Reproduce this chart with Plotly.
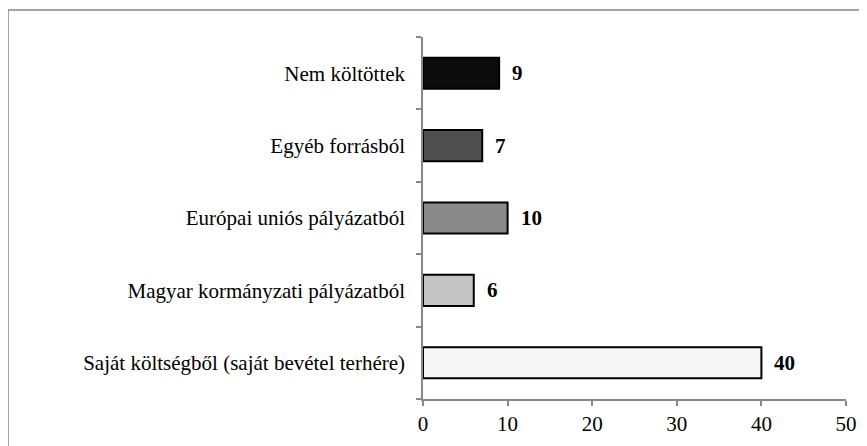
import plotly.graph_objects as go

categories = [
    "Saját költségből (saját bevétel terhére)",
    "Magyar kormányzati pályázatból",
    "Európai uniós pályázatból",
    "Egyéb forrásból",
    "Nem költöttek",
]
values = [40, 6, 10, 7, 9]
bar_colors = ["#f7f7f7", "#c4c4c4", "#8a8a8a", "#4f4f4f", "#0c0c0c"]
x_ticks = [0, 10, 20, 30, 40, 50]

FONT = "Liberation Serif, Times New Roman, serif"
FS = 21

fig = go.Figure()
fig.add_trace(go.Bar(
    x=values,
    y=categories,
    orientation="h",
    marker=dict(color=bar_colors, line=dict(color="#000000", width=2)),
    hoverinfo="skip",
))

for c, v in zip(categories, values):
    fig.add_annotation(
        x=v, y=c, text="<b>%d</b>" % v, showarrow=False,
        xanchor="left", xshift=11,
        font=dict(family=FONT, size=FS, color="#000000"),
    )

# page offset of the figure inside the browser (body margin)
OFF = 8
W, H = 867, 446
L, T = 423 - OFF, 37 - OFF
R = W - (846 - OFF)
B = H - (399 - OFF)
pw, ph = W - L - R, H - T - B
plot_bottom = H - B

fig.add_shape(
    type="rect", xref="paper", yref="paper",
    x0=(0 - L) / pw, x1=(W + 20 - L) / pw,
    y0=-(H + 20 - plot_bottom) / ph, y1=(plot_bottom - 2) / ph,
    line=dict(color="#888888", width=1.5), fillcolor="rgba(0,0,0,0)",
)

fig.update_layout(
    width=W, height=H,
    margin=dict(l=L, r=R, t=T, b=B),
    paper_bgcolor="white", plot_bgcolor="white",
    showlegend=False,
    bargap=0.57,
    font=dict(family=FONT, size=FS, color="#000000"),
    xaxis=dict(
        range=[0, 50], tickvals=x_ticks, ticktext=[str(t) for t in x_ticks],
        showgrid=False, zeroline=False,
        showline=True, linecolor="#888888", linewidth=1.5,
        ticks="outside", ticklen=5, tickcolor="#888888", tickwidth=1.5,
        tickfont=dict(family=FONT, size=FS),
    ),
    yaxis=dict(
        categoryorder="array", categoryarray=categories,
        showgrid=False, zeroline=False,
        showline=True, linecolor="#888888", linewidth=1.5,
        ticks="outside", ticklen=5, tickcolor="#888888", tickwidth=1.5,
        tickson="boundaries", ticklabelstandoff=12,
        tickfont=dict(family=FONT, size=FS),
    ),
)

fig.write_html("out.html")
